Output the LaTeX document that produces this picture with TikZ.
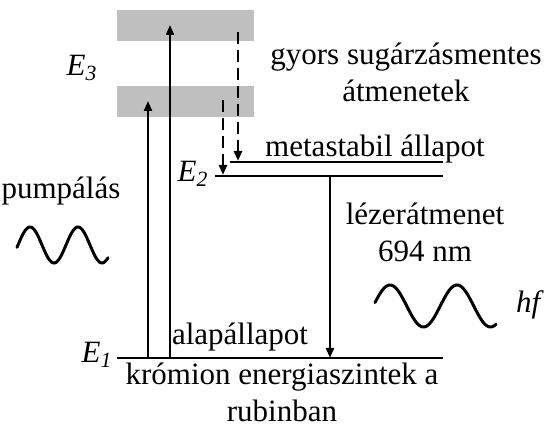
\documentclass[tikz,border=0pt]{standalone}
\usepackage{fontspec}
\setmainfont{Liberation Serif}
\usetikzlibrary{arrows.meta}

\tikzset{
  lbl/.style={font=\fontsize{15.5}{18.5}\selectfont, inner sep=0pt, align=center},
  band/.style={fill=gray!50, draw=none, minimum width=68.5pt, minimum height=15.5pt, inner sep=0pt},
  level/.style={line width=1pt},
  trans/.style={line width=1pt, -{Triangle[length=5pt,width=4pt]}},
  fast/.style={trans, line width=1.3pt, dash pattern=on 6pt off 3pt},
  wave/.style={line width=1.5pt, line cap=round}
}

\begin{document}
\begin{tikzpicture}[x=0.5pt, y=-0.5pt]
  \useasboundingbox (0,0) rectangle (554,427);

  % broad absorption bands
  \node[band] (b4) at (185.5,25.5) {};
  \node[band] (b3) at (185.5,101.5) {};

  % levels
  \coordinate (e1l) at (117,358);  \coordinate (e1r) at (443,358);
  \coordinate (e2l) at (215,176);  \coordinate (e2r) at (443,176);
  \coordinate (mml) at (230,162);  \coordinate (mmr) at (443,162);
  \draw[level] (e1l) -- (e1r);
  \draw[level] (e2l) -- (e2r);
  \draw[level] (mml) -- (mmr);

  % pumping
  \coordinate (p1a) at (148,358);  \coordinate (p1b) at (148,101);
  \coordinate (p2a) at (170,358);  \coordinate (p2b) at (170,25);
  \draw[trans] (p1a) -- (p1b);
  \draw[trans] (p2a) -- (p2b);

  % fast non-radiative decay
  \coordinate (d1a) at (238,32);   \coordinate (d1b) at (238,161);
  \coordinate (d2a) at (223,100);  \coordinate (d2b) at (223,175);
  \draw[fast] (d1a) -- (d1b);
  \draw[fast] (d2a) -- (d2b);

  % laser transition
  \coordinate (la) at (330,176);   \coordinate (lb) at (330,358);
  \draw[trans] (la) -- (lb);

  % photons
  \draw[wave] plot[domain=17:108, samples=80, smooth] (\x,{245-18*sin((\x-18)/48*360)});
  \draw[wave] plot[domain=375:496, samples=100, smooth] (\x,{306-21*sin((\x-373.25)/67*360)});

  % labels
  \node[lbl] (e3lab) at (82,68) {\textit{E\textsubscript{3}}};
  \node[lbl] (e2lab) at (193,174) {\textit{E\textsubscript{2}}};
  \node[lbl] (e1lab) at (97,355) {\textit{E\textsubscript{1}}};
  \node[lbl, anchor=base] (fastlab) at (406,102) {gyors sugárzásmentes\\átmenetek};
  \node[lbl, anchor=base] (metalab) at (375,157) {metastabil állapot};
  \node[lbl, anchor=base] (pumplab) at (61,199) {pumpálás};
  \node[lbl, anchor=base] (laslab) at (425,262) {lézerátmenet\\694 nm};
  \node[lbl] (hflab) at (530,305) {\textit{hf}};
  \node[lbl, anchor=base] (gndlab) at (240,345) {alapállapot};
  \node[lbl, anchor=base] (caption) at (282,422) {krómion energiaszintek a\\rubinban};
\end{tikzpicture}
\end{document}
